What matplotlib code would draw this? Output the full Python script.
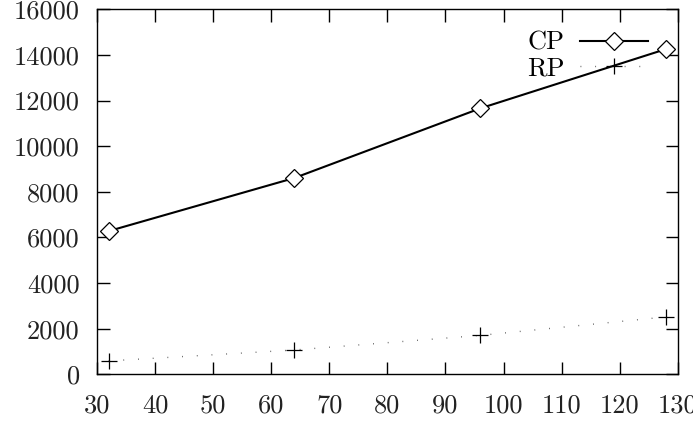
import matplotlib
matplotlib.use("Agg")
import matplotlib.pyplot as plt

# valores
x = [32, 64, 96, 128]
cp = [6280, 8610, 11660, 14260]
rp = [590, 1070, 1710, 2520]
xticks = [30, 40, 50, 60, 70, 80, 90, 100, 110, 120, 130]
yticks = [0, 2000, 4000, 6000, 8000, 10000, 12000, 14000, 16000]

plt.rcParams['font.family'] = 'cmr10'
plt.rcParams['axes.unicode_minus'] = False
plt.rcParams['font.size'] = 19

fig = plt.figure(figsize=(6.93, 4.24), dpi=100)
ax = fig.add_axes([0.140, 0.117, 0.838, 0.861])

ax.plot(x, cp, color='black', lw=1.5, marker='D', ms=9, mfc='white',
        mec='black', mew=0.9, label='CP')
ax.plot(x, rp, color='#555555', lw=1.0, linestyle=(0, (0.6, 10)),
        marker='+', ms=12, mec='black', mew=0.9, label='RP')

ax.set_xlim(30, 130)
ax.set_ylim(0, 16000)
ax.set_xticks(xticks)
ax.set_yticks(yticks)
ax.tick_params(direction='in', length=9, width=1.0, top=True, right=True,
               colors='black', labelcolor='#222222')
ax.tick_params(axis='x', pad=14)
ax.tick_params(axis='y', pad=12.5)
for s in ax.spines.values():
    s.set_linewidth(1.0)

ax.legend(loc='upper right', bbox_to_anchor=(0.948, 0.94), frameon=False,
          markerfirst=False, numpoints=1, handlelength=2.55,
          handletextpad=0.6, labelspacing=0.05, borderpad=0, borderaxespad=0)

fig.savefig('out.png', dpi=100)
